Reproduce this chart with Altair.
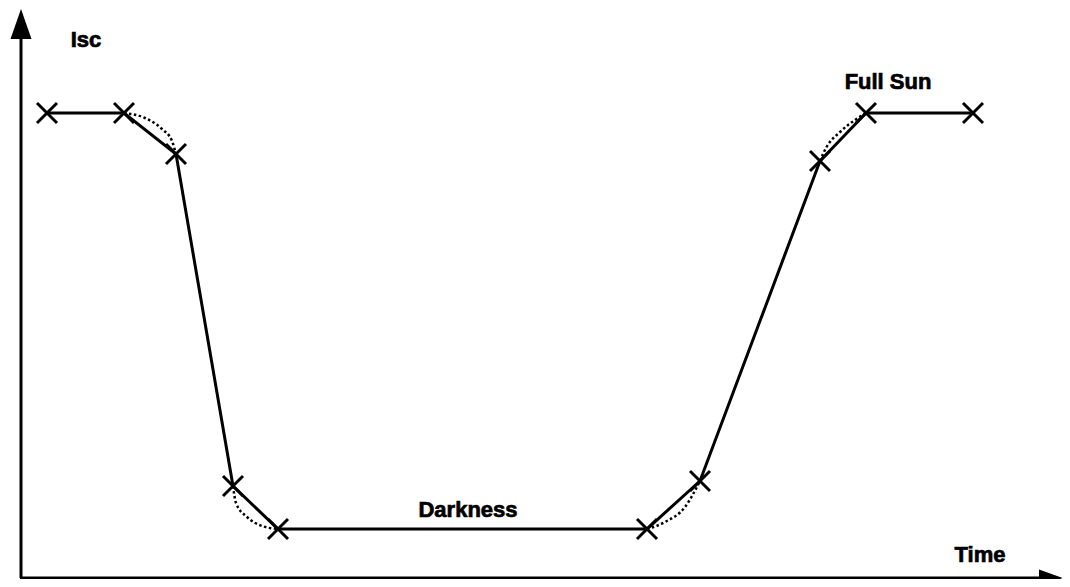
import altair as alt
import pandas as pd

# Key points of the Isc profile (time, Isc) in arbitrary units
time_pts = [26, 103, 155, 212, 257, 626, 679, 799, 845, 952]
isc_pts = [469, 469, 428, 96, 53, 53, 101, 421, 469, 469]

# Dotted curved transitions (smooth ideal shape) between pairs of points
curve_id = ["c1"] * 5 + ["c2"] * 5 + ["c3"] * 4 + ["c4"] * 5
curve_t = [103, 124, 141, 151, 155,
           212, 215, 226, 241, 257,
           626, 644, 664, 679,
           799, 805, 819, 834, 845]
curve_i = [469, 464, 453, 441, 428,
           96, 79, 65, 56, 53,
           53, 60, 75, 101,
           421, 434, 450, 462, 469]

# Text annotations
label_text = ["Isc", "Full Sun", "Darkness", "Time"]
label_t = [65, 867, 447, 959]
label_i = [535, 493, 65, 20]

# Axis lines with arrow heads
axis_x1 = [0, -1]
axis_x2 = [0, 1030]
axis_y1 = [4, 4]
axis_y2 = [545, 4]
arrow_t = [0, 1030]
arrow_i = [558, 4]
arrow_kind = ["up", "right"]

X_DOM = [-13, 1041]
Y_DOM = [3, 574]
xs = alt.Scale(domain=X_DOM, nice=False, zero=False)
ys = alt.Scale(domain=Y_DOM, nice=False, zero=False)

main = pd.DataFrame({"t": time_pts, "i": isc_pts})
curves = pd.DataFrame({"id": curve_id, "t": curve_t, "i": curve_i})
labels = pd.DataFrame({"text": label_text, "t": label_t, "i": label_i})
axes = pd.DataFrame({"x1": axis_x1, "x2": axis_x2, "y1": axis_y1, "y2": axis_y2})
arrows = pd.DataFrame({"t": arrow_t, "i": arrow_i, "kind": arrow_kind})

X = lambda f: alt.X(f, type="quantitative", scale=xs, axis=None)
Y = lambda f: alt.Y(f, type="quantitative", scale=ys, axis=None)

axis_rules = alt.Chart(axes).mark_rule(color="black", strokeWidth=3).encode(
    x=X("x1"), x2="x2", y=Y("y1"), y2="y2"
)

arrow_up = alt.Chart(arrows[arrows.kind == "up"]).mark_point(
    shape="M0,-1L0.7,1L-0.7,1Z", filled=True, color="black", size=900, opacity=1
).encode(x=X("t"), y=Y("i"))

arrow_right = alt.Chart(arrows[arrows.kind == "right"]).mark_point(
    shape="M1,0L-1,-0.7L-1,0.7Z", filled=True, color="black", size=576, opacity=1
).encode(x=X("t"), y=Y("i"))

dotted = alt.Chart(curves).mark_line(
    color="black", strokeWidth=2.5, strokeDash=[2.5, 2.5], interpolate="monotone"
).encode(x=X("t"), y=Y("i"), detail="id")

solid = alt.Chart(main).mark_line(color="black", strokeWidth=3).encode(
    x=X("t"), y=Y("i")
)

marks = alt.Chart(main).mark_point(
    shape="M-1,-1L1,1M1,-1L-1,1", filled=False, color="black",
    strokeWidth=3, size=400, opacity=1
).encode(x=X("t"), y=Y("i"))

text = alt.Chart(labels).mark_text(
    font="Liberation Sans", fontSize=22, fontWeight="bold", color="black",
    stroke="black", strokeWidth=0.7,
    align="center", baseline="alphabetic"
).encode(x=X("t"), y=Y("i"), text="text")

chart = alt.layer(axis_rules, arrow_up, arrow_right, dotted, solid, marks, text).properties(
    width=1054, height=571, padding=0, background="white",
    autosize=alt.AutoSizeParams(type="none")
).configure_view(stroke=None)

chart.save("out.html", embed_options={"renderer": "svg", "actions": False})
